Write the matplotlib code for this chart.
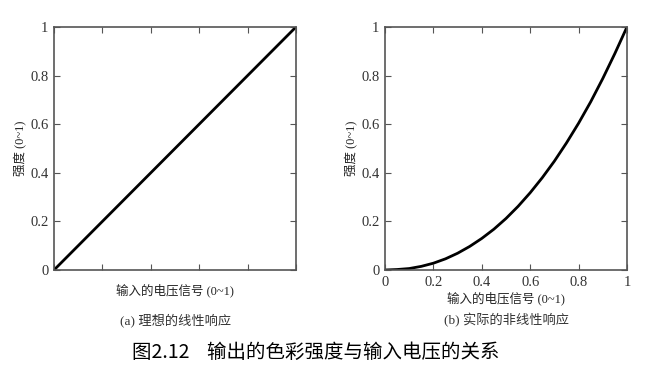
import matplotlib
matplotlib.use("Agg")
import matplotlib.pyplot as plt

plt.rcParams['font.family'] = ['Liberation Serif', 'Noto Sans CJK SC', 'DejaVu Sans']

# Data
voltage = [0.0, 0.05, 0.1, 0.15, 0.2, 0.25, 0.3, 0.35, 0.4, 0.45, 0.5,
           0.55, 0.6, 0.65, 0.7, 0.75, 0.8, 0.85, 0.9, 0.95, 1.0]
ideal = list(voltage)
actual = [0.0, 0.002, 0.006, 0.015, 0.028, 0.046, 0.069, 0.097, 0.13, 0.168, 0.212,
          0.262, 0.318, 0.38, 0.448, 0.523, 0.604, 0.692, 0.788, 0.891, 1.0]
ticks = [0, 0.2, 0.4, 0.6, 0.8, 1]
tick_labels = ["0", "0.2", "0.4", "0.6", "0.8", "1"]

xlabel = "输入的电压信号 (0~1)"
ylabel = "强度 (0~1)"
sub_a = "(a) 理想的线性响应"
sub_b = "(b) 实际的非线性响应"
caption = "图2.12    输出的色彩强度与输入电压的关系"

fig = plt.figure(figsize=(6.61, 3.90), dpi=100)
ax1 = fig.add_axes([0.0817, 0.3077, 0.366, 0.623])
ax2 = fig.add_axes([0.5825, 0.3077, 0.366, 0.623])

for ax, y in ((ax1, ideal), (ax2, actual)):
    ax.plot(voltage, y, color='black', lw=2)
    ax.set_xlim(0, 1)
    ax.set_ylim(0, 1)
    ax.set_xticks(ticks)
    ax.set_yticks(ticks)
    ax.set_yticklabels(tick_labels, fontsize=10.5, color='#333333')
    ax.tick_params(direction='in', length=4, top=True, right=True,
                   color='#555555', pad=4)
    for s in ax.spines.values():
        s.set_color('#555555')
        s.set_linewidth(1.2)
    ax.set_ylabel(ylabel, fontsize=9, color='#222222', labelpad=2)

ax1.set_xticklabels([])
ax2.set_xticklabels(tick_labels, fontsize=10.5, color='#333333')
ax1.set_xlabel(xlabel, fontsize=9, color='#222222', labelpad=6)
ax2.set_xlabel(xlabel, fontsize=9, color='#222222', labelpad=2)

fig.text(0.265, 0.178, sub_a, ha='center', va='center', fontsize=9.5, color='#333333')
fig.text(0.767, 0.178, sub_b, ha='center', va='center', fontsize=9.5, color='#333333')
fig.text(0.478, 0.097, caption, ha='center', va='center', fontsize=14,
         family=['Noto Sans CJK SC', 'DejaVu Sans'], color='black')

fig.savefig("out.png", dpi=100)
